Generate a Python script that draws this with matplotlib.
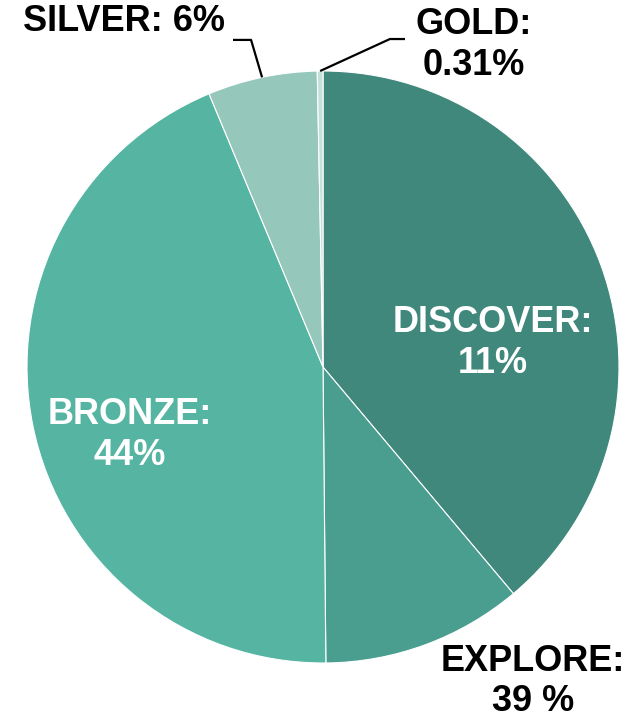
import numpy as np
import matplotlib.pyplot as plt

# slice sizes as drawn (percent), clockwise from 12 o'clock
values = [39, 11, 44, 6, 0.31]
labels = ["DISCOVER:\n11%", "EXPLORE:\n39 %", "BRONZE:\n44%", "SILVER: 6%", "GOLD:\n0.31%"]
colors = ["#3F887B", "#4A9E8F", "#55B5A2", "#95C8BB", "#C5E0D9"]
text_colors = ["white", "black", "white", "black", "black"]

# label layout (data coords, pie radius = 1)
label_pos = [(0.574, 0.081), (0.709, -1.062), (-0.652, -0.230), (-0.672, 1.166), (0.510, 1.088)]
leaders = {3: [(-0.243, 1.105), (-0.304, 1.105)], 4: [(0.226, 1.108), (0.277, 1.108)]}

plt.rcParams['font.family'] = ['Liberation Sans', 'DejaVu Sans']

fig = plt.figure(figsize=(6.37, 7.21), dpi=100)
ax = fig.add_axes([27 / 637, 58 / 721, 592 / 637, 592 / 721])
wedges, _ = ax.pie(values, colors=colors, startangle=90, counterclock=False, radius=1,
                   wedgeprops=dict(edgecolor="white", linewidth=0.8))
ax.set_xlim(-1, 1)
ax.set_ylim(-1, 1)
ax.set_aspect("equal")
ax.axis("off")

for i, (lab, (x, y)) in enumerate(zip(labels, label_pos)):
    ax.text(x, y, lab, ha="center", va="center", fontsize=26, fontweight="bold",
            color=text_colors[i], linespacing=1.2, clip_on=False)
    if i in leaders:
        w = wedges[i]
        mid = np.deg2rad((w.theta1 + w.theta2) / 2)
        pts = [(np.cos(mid), np.sin(mid))] + leaders[i]
        xs, ys = zip(*pts)
        ax.plot(xs, ys, color="black", lw=1.6, clip_on=False, solid_capstyle="butt")

fig.savefig("out.png", dpi=100)
